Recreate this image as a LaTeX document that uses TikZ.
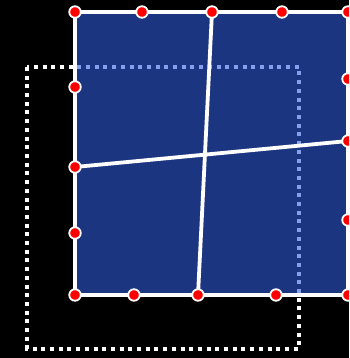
\documentclass[tikz,border=0pt]{standalone}
\pgfdeclarelayer{back}
\pgfdeclarelayer{mid}
\pgfsetlayers{back,mid,main}
\begin{document}
\begin{tikzpicture}[x=1pt,y=-1pt,
  dot/.style={circle,fill=red,draw=white,line width=1.8pt,inner sep=0pt,minimum size=11.5pt},
  edge/.style={white,line width=3.4pt},
  cross/.style={white,line width=3.8pt},
  dots/.style={line width=4pt,dash pattern=on 4pt off 4.7pt}]
\definecolor{sqblue}{RGB}{28,53,128}
\definecolor{dotblue}{RGB}{130,160,235}
\useasboundingbox (0,0) rectangle (349,358);
\begin{scope}
\clip (0,0) rectangle (349,358);
\node[dot] (t1) at (75,12) {};
\node[dot] (t2) at (142,12) {};
\node[dot] (t3) at (212,12) {};
\node[dot] (t4) at (282,12) {};
\node[dot] (t5) at (348,12) {};
\node[dot] (l1) at (75,87) {};
\node[dot] (l2) at (75,167) {};
\node[dot] (l3) at (75,233) {};
\node[dot] (b1) at (75,295) {};
\node[dot] (b2) at (134,295) {};
\node[dot] (b3) at (198,295) {};
\node[dot] (b4) at (276,295) {};
\node[dot] (b5) at (348,295) {};
\node[dot] (r1) at (348,79) {};
\node[dot] (r2) at (348,141) {};
\node[dot] (r3) at (348,220) {};
\begin{pgfonlayer}{back}
\fill[black] (0,0) rectangle (349,358);
\draw[dots,white] (27,67) rectangle (299,348.5);
\fill[sqblue] (t1.center) rectangle (b5.center);
\begin{scope}
\clip (t1.center) rectangle (b5.center);
\draw[dots,dotblue] (27,67) rectangle (299,348.5);
\end{scope}
\end{pgfonlayer}
\begin{pgfonlayer}{mid}
\draw[edge] (t1.center) rectangle (b5.center);
\draw[cross] (t3.center) -- (b3.center);
\draw[cross] (l2.center) -- (r2.center);
\end{pgfonlayer}
\end{scope}
\end{tikzpicture}
\end{document}
